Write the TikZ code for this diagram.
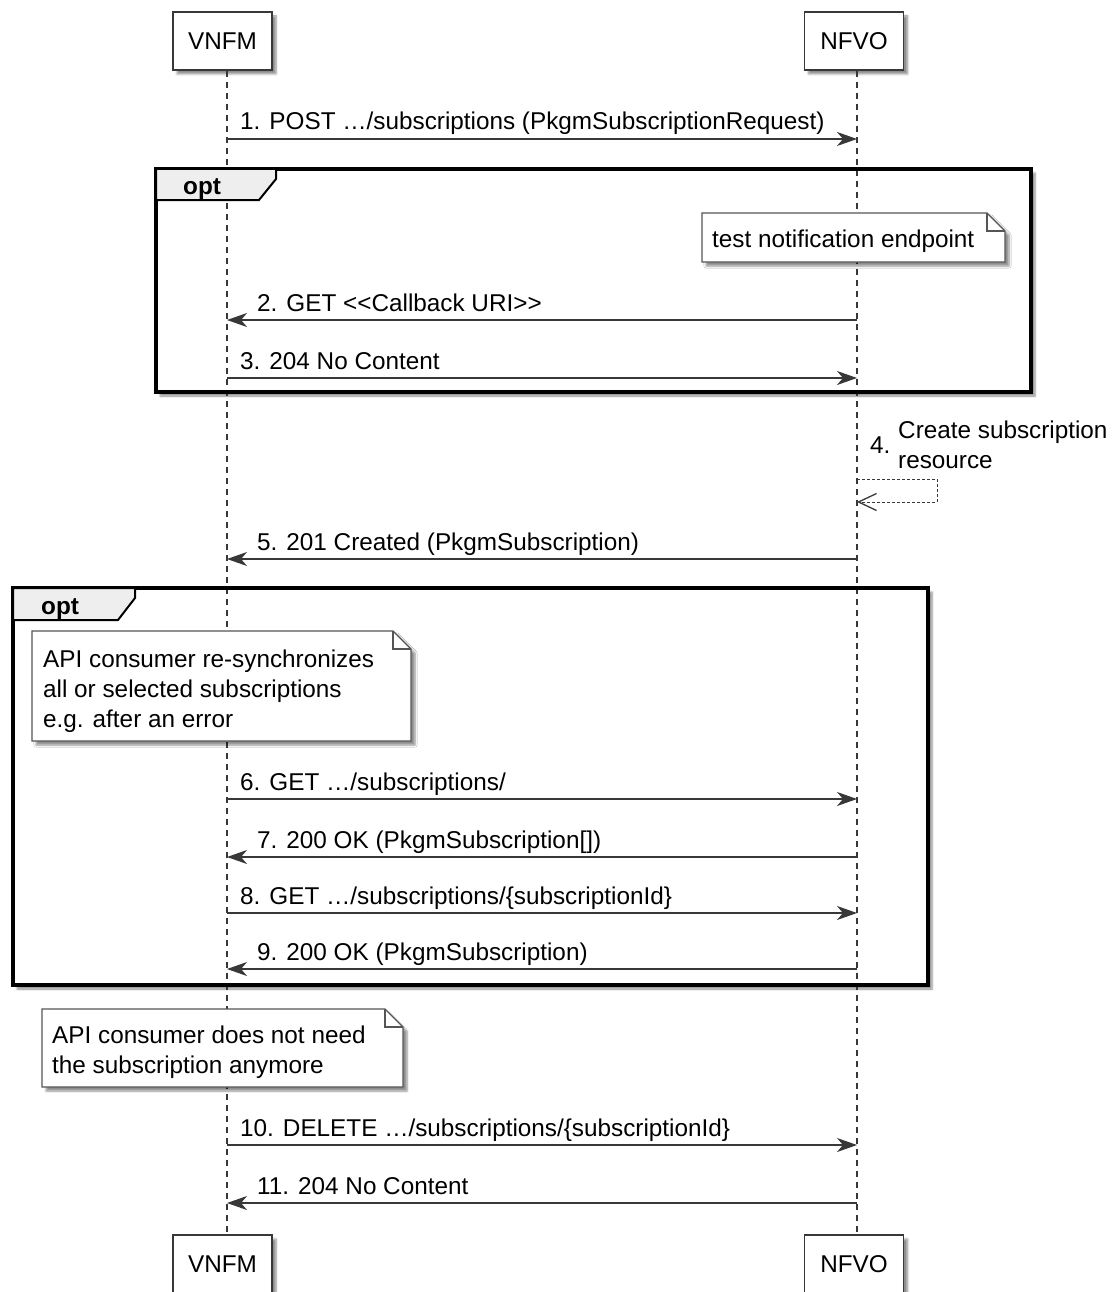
\documentclass[tikz,border=0pt]{standalone}
\usepackage{fontspec}
\setmainfont{Liberation Sans}
\usetikzlibrary{arrows.meta,shadows,shadows.blur}
\definecolor{linegray}{HTML}{383838}
\definecolor{notegray}{HTML}{555555}
\definecolor{tabgray}{HTML}{EEEEEE}
\begin{document}
\begin{tikzpicture}[x=1pt,y=-1pt,
  font=\fontsize{24.3}{30}\selectfont,
  shad/.style={blur shadow={shadow xshift=4pt, shadow yshift=-4pt, shadow blur steps=6, shadow opacity=45}},
  participant/.style={draw=linegray, line width=1.5pt, fill=white, minimum width=99pt, minimum height=58pt, inner sep=0pt, shad},
  lifeline/.style={draw=linegray, line width=1.1pt, dash pattern=on 6pt off 5pt},
  msg/.style={draw=linegray, line width=1.1pt, -{Stealth[length=20pt,width=14pt,inset=6pt]}},
  selfmsg/.style={draw=linegray, line width=1pt, dash pattern=on 3pt off 2pt, -{Straight Barb[length=18pt,width=17pt,line width=1.3pt]}},
  lbl/.style={anchor=base west, inner sep=0pt, align=left},
  framebox/.style={draw=black, line width=3.5pt},
  tabbox/.style={draw=black, line width=2pt, fill=tabgray},
  notebox/.style={draw=notegray, line width=1.2pt},
  optlbl/.style={anchor=base west, inner sep=0pt, font=\fontsize{24.3}{30}\selectfont\bfseries}
]
\useasboundingbox (0,0) rectangle (1111,1292);

% frame backgrounds with shadows
\fill[white, shad] (156,169) rectangle (1031,392);
\fill[white, shad] (13,588) rectangle (928,985);

% lifeline x positions
\coordinate (V) at (227,0);
\coordinate (N) at (857,0);

% participants
\node[participant] (vtop) at (222.5,41) {VNFM};
\node[participant] (ntop) at (854,41) {NFVO};
\node[participant] (vbot) at (222.5,1264) {VNFM};
\node[participant] (nbot) at (854,1264) {NFVO};

% lifelines
\draw[lifeline] (vtop.south -| V) -- (vbot.north -| V);
\draw[lifeline] (ntop.south -| N) -- (nbot.north -| N);

% frames
\draw[framebox] (156,169) rectangle (1031,392);
\draw[tabbox] (156,169) -- (276,169) -- (276,179) -- (259,200) -- (156,200) -- cycle;
\node[optlbl] (opt1) at (183,195) {opt};

\draw[framebox] (13,588) rectangle (928,985);
\draw[tabbox] (13,588) -- (135,588) -- (135,598) -- (118,620) -- (13,620) -- cycle;
\node[optlbl] (opt2) at (41,614) {opt};

% notes
\fill[white, shad] (702,213) -- (987,213) -- (1005,231) -- (1005,262) -- (702,262) -- cycle;
\draw[notebox] (702,213) -- (987,213) -- (1005,231) -- (1005,262) -- (702,262) -- cycle;
\draw[notebox] (987,213) -- (987,231) -- (1005,231);
\node[lbl] (note1) at (712,247) {test notification endpoint};

\fill[white, shad] (32,631) -- (393,631) -- (411,649) -- (411,741) -- (32,741) -- cycle;
\draw[notebox] (32,631) -- (393,631) -- (411,649) -- (411,741) -- (32,741) -- cycle;
\draw[notebox] (393,631) -- (393,649) -- (411,649);
\node[lbl] (note2) at (43,727) {API consumer re-synchronizes\\all or selected subscriptions\\e.g. after an error};

\fill[white, shad] (42,1009) -- (385,1009) -- (403,1027) -- (403,1087) -- (42,1087) -- cycle;
\draw[notebox] (42,1009) -- (385,1009) -- (403,1027) -- (403,1087) -- (42,1087) -- cycle;
\draw[notebox] (385,1009) -- (385,1027) -- (403,1027);
\node[lbl] (note3) at (52,1073) {API consumer does not need\\the subscription anymore};

% messages
\coordinate (v1) at (227,139);  \coordinate (n1) at (857,139);
\draw[msg] (v1) -- (n1);
\node[lbl] (m1) at (240,130) {1. POST …/subscriptions (PkgmSubscriptionRequest)};

\coordinate (v2) at (227,320);  \coordinate (n2) at (857,320);
\draw[msg] (n2) -- (v2);
\node[lbl] (m2) at (257,311) {2. GET <{}<Callback URI>{}>};

\coordinate (v3) at (227,378);  \coordinate (n3) at (857,378);
\draw[msg] (v3) -- (n3);
\node[lbl] (m3) at (240,369) {3. 204 No Content};

\coordinate (s4a) at (857,479); \coordinate (s4b) at (857,502);
\draw[selfmsg] (s4a) -- (937,479) -- (937,502) -- (s4b);
\node[lbl] (m4n) at (870,453) {4.};
\node[lbl] (m4) at (898,468) {Create subscription\\resource};

\coordinate (v5) at (227,559);  \coordinate (n5) at (857,559);
\draw[msg] (n5) -- (v5);
\node[lbl] (m5) at (257,550) {5. 201 Created (PkgmSubscription)};

\coordinate (v6) at (227,799);  \coordinate (n6) at (857,799);
\draw[msg] (v6) -- (n6);
\node[lbl] (m6) at (240,790) {6. GET …/subscriptions/};

\coordinate (v7) at (227,857);  \coordinate (n7) at (857,857);
\draw[msg] (n7) -- (v7);
\node[lbl] (m7) at (257,848) {7. 200 OK (PkgmSubscription[])};

\coordinate (v8) at (227,913);  \coordinate (n8) at (857,913);
\draw[msg] (v8) -- (n8);
\node[lbl] (m8) at (240,904) {8. GET …/subscriptions/\{subscriptionId\}};

\coordinate (v9) at (227,969);  \coordinate (n9) at (857,969);
\draw[msg] (n9) -- (v9);
\node[lbl] (m9) at (257,960) {9. 200 OK (PkgmSubscription)};

\coordinate (v10) at (227,1145); \coordinate (n10) at (857,1145);
\draw[msg] (v10) -- (n10);
\node[lbl] (m10) at (240,1136) {10. DELETE …/subscriptions/\{subscriptionId\}};

\coordinate (v11) at (227,1203); \coordinate (n11) at (857,1203);
\draw[msg] (n11) -- (v11);
\node[lbl] (m11) at (257,1194) {11. 204 No Content};
\end{tikzpicture}
\end{document}
